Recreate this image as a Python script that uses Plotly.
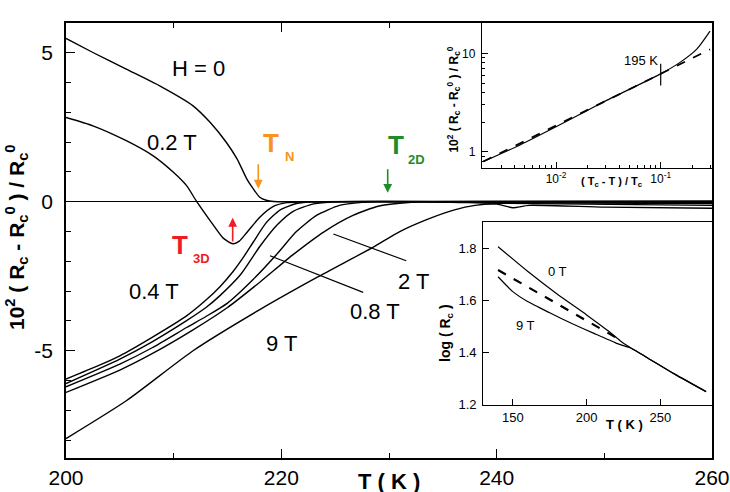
import plotly.graph_objects as go

# ---------------- main panel data: 10^2 (Rc - Rc0)/Rc0 vs T (K) ----------------
T_H0 = [200, 202.5, 205.6, 208.7, 211.8, 213.4, 214.9, 215.9, 216.8, 217.4, 218.0, 218.6, 219.3, 220.5, 225, 240, 260]
R_H0 = [5.48, 5.01, 4.45, 3.89, 3.22, 2.66, 1.99, 1.43, 0.76, 0.43, 0.15, 0.05, 0.01, 0.0, 0.0, 0.02, 0.03]

T_02 = [200, 202.5, 205.6, 208.1, 210.0, 211.2, 212.1, 213.4, 214.6, 215.5, 216.1, 216.8, 218.0, 219.3, 220.5, 222, 240, 260]
R_02 = [2.83, 2.55, 2.05, 1.54, 0.98, 0.54, 0.03, -0.64, -1.22, -1.41, -1.32, -1.03, -0.52, -0.15, -0.03, 0.0, 0.0, 0.0]

T_04 = [200, 203, 205, 208, 211.2, 213, 214.3, 215.5, 216.5, 217.4, 218.6, 219.9, 221.4, 223, 240, 260]
R_04 = [-5.95, -5.5, -5.17, -4.55, -3.83, -3.3, -2.85, -2.35, -1.85, -1.35, -0.7, -0.27, -0.06, 0.0, 0.0, 0.0]

T_06 = [200, 205, 208, 211.2, 213, 214.3, 216.2, 218, 219.6, 221.1, 223, 225, 240, 260]
R_06 = [-6.10, -5.28, -4.7, -3.99, -3.55, -3.15, -2.45, -1.5, -0.78, -0.32, -0.07, 0.0, 0.0, -0.03]

T_08 = [200, 205, 208, 211.2, 213, 215, 217.4, 219.6, 221.4, 223.3, 225.4, 227.5, 229, 240, 260]
R_08 = [-6.21, -5.45, -4.9, -4.22, -3.85, -3.4, -2.6, -1.75, -1.0, -0.45, -0.12, -0.02, 0.0, -0.03, -0.06]

T_2T = [200, 205, 208, 211.8, 215, 218, 221, 224, 226.7, 229, 231, 233, 240, 260]
R_2T = [-6.40, -5.65, -5.1, -4.3, -3.55, -2.7, -1.8, -1.0, -0.45, -0.15, -0.05, 0.0, -0.05, -0.12]

T_9T = [200, 205.6, 211.8, 218, 223.3, 228.5, 231, 233.5, 236, 238, 240, 241.5, 243, 250, 260]
R_9T = [-7.95, -6.68, -5.0, -3.62, -2.54, -1.53, -1.0, -0.6, -0.28, -0.12, -0.08, -0.2, -0.12, -0.18, -0.22]

# ---------------- upper inset: log-log ----------------
X_in1 = [0.00202, 0.00453, 0.0100, 0.0283, 0.100, 0.153, 0.221, 0.296]
Y_in1 = [0.793, 1.17, 1.79, 3.20, 6.19, 8.11, 11.07, 16.9]
X_in1_fit = [0.00202, 0.296]
Y_in1_fit = [0.793, 11.0]
X_195 = [0.1, 0.1]
Y_195 = [4.72, 7.87]

# ---------------- lower inset: log(Rc) vs T ----------------
T_0T = [140, 160, 180, 200, 215, 225, 230, 240, 260, 281]
L_0T = [1.806, 1.712, 1.625, 1.545, 1.482, 1.436, 1.418, 1.385, 1.317, 1.251]
T_9Tb = [140, 150, 160, 175, 190, 205, 220, 225, 230, 240, 260, 281]
L_9Tb = [1.691, 1.634, 1.596, 1.553, 1.512, 1.474, 1.437, 1.427, 1.418, 1.385, 1.317, 1.251]
T_dash = [140, 220]
L_dash = [1.717, 1.458]

FONT = "Liberation Sans, Arial, sans-serif"
ORANGE = "#F7941D"
GREEN = "#1E8C2A"
RED = "#EE1C24"

fig = go.Figure()

def line(x, y, xa, ya, width=1.3, dash=None, spline=True):
    fig.add_trace(go.Scatter(
        x=x, y=y, mode="lines", xaxis=xa, yaxis=ya, showlegend=False, hoverinfo="skip",
        line=dict(color="black", width=width, dash=dash,
                  shape="spline" if spline else "linear", smoothing=0.6 if spline else None)))

for T, R in [(T_H0, R_H0), (T_02, R_02), (T_04, R_04), (T_06, R_06),
             (T_08, R_08), (T_2T, R_2T), (T_9T, R_9T)]:
    line(T, R, "x", "y", width=1.4)

line(X_in1, Y_in1, "x2", "y2", width=1.2)
line(X_in1_fit, Y_in1_fit, "x2", "y2", width=1.8, dash="dash", spline=False)
line(X_195, Y_195, "x2", "y2", width=1.2, spline=False)

line(T_0T, L_0T, "x3", "y3", width=1.2)
line(T_9Tb, L_9Tb, "x3", "y3", width=1.2)
line(T_dash, L_dash, "x3", "y3", width=2.2, dash="dash", spline=False)

axis_common = dict(showline=True, linecolor="black", ticks="inside", tickcolor="black",
                   showgrid=False, zeroline=False, automargin=False, ticklabeloverflow="allow")

fig.update_layout(
    width=730, height=492,
    margin=dict(l=66, r=18, t=23, b=34),
    paper_bgcolor="white", plot_bgcolor="white",
    font=dict(family=FONT, color="black"),
    showlegend=False,
    xaxis=dict(axis_common, domain=[0, 1], range=[200, 260], anchor="y",
               tickvals=[200, 220, 240, 260], ticklen=9, linewidth=1.5, mirror="ticks",
               minor=dict(tickvals=[210, 230, 250], ticklen=5, ticks="inside", tickcolor="black"),
               tickfont=dict(size=21)),
    yaxis=dict(axis_common, domain=[0, 1], range=[-8.6, 6], anchor="x",
               tickvals=[-5, 0, 5], ticktext=["-5", "0", "5"], ticklen=9, linewidth=1.5, mirror=True,
               minor=dict(tickvals=[-8, -7, -6, -4, -3, -2, -1, 1, 2, 3, 4], ticklen=5,
                          ticks="inside", tickcolor="black"),
               zeroline=True, zerolinecolor="black", zerolinewidth=1.3,
               tickfont=dict(size=21), ticklabelstandoff=7),
    xaxis2=dict(axis_common, domain=[0.644, 1], anchor="y2", type="log", range=[-2.707, -0.51],
                tickvals=[0.01, 0.1], ticktext=["10<sup>-2</sup>", "10<sup>-1</sup>"], ticklen=6,
                linewidth=1.3, mirror=True,
                minor=dict(tickvals=[0.003, 0.004, 0.005, 0.006, 0.007, 0.008, 0.009,
                                     0.02, 0.03, 0.04, 0.05, 0.06, 0.07, 0.08, 0.09, 0.2, 0.3],
                           ticklen=3, ticks="inside", tickcolor="black"),
                tickfont=dict(size=12)),
    yaxis2=dict(axis_common, domain=[0.667, 1], anchor="x2", type="log", range=[-0.165, 1.31],
                tickvals=[1, 10], ticktext=["1", "10"], ticklen=6, linewidth=1.3, mirror=True,
                minor=dict(tickvals=[0.7, 0.8, 0.9, 2, 3, 4, 5, 6, 7, 8, 9, 20],
                           ticklen=3, ticks="inside", tickcolor="black"),
                tickfont=dict(size=12), ticklabelstandoff=3),
    xaxis3=dict(axis_common, domain=[0.646, 1], anchor="y3", range=[130, 285],
                tickvals=[150, 200, 250], ticklen=6, linewidth=1.3, mirror=True,
                tickfont=dict(size=13)),
    yaxis3=dict(axis_common, domain=[0.122, 0.542], anchor="x3", range=[1.2, 1.9],
                tickvals=[1.2, 1.4, 1.6, 1.8], ticklen=6, linewidth=1.3, mirror=True,
                tickfont=dict(size=13), ticklabelstandoff=3),
)

ann = []
def txt(x, y, s, size=22, color="black", xref="x", yref="y", bold=False, angle=0, xanchor="center"):
    ann.append(dict(x=x, y=y, xref=xref, yref=yref, text=("<b>%s</b>" % s) if bold else s,
                    showarrow=False, font=dict(size=size, color=color, family=FONT),
                    textangle=angle, xanchor=xanchor, yanchor="middle"))

# curve labels (main)
txt(212.35, 4.48, "H = 0")
txt(209.85, 2.0, "0.2 T")
txt(208.13, -3.02, "0.4 T")
txt(220.0, -4.75, "9 T")
txt(232.28, -2.68, "2 T")
txt(228.7, -3.69, "0.8 T")
# transition labels
txt(219.04, 1.96, "T", size=26, color=ORANGE, bold=True)
txt(220.8, 1.51, "N", size=13, color=ORANGE, bold=True)
txt(230.65, 1.91, "T", size=26, color=GREEN, bold=True)
txt(232.6, 1.41, "2D", size=13, color=GREEN, bold=True)
txt(210.59, -1.44, "T", size=26, color=RED, bold=True)
txt(212.63, -1.90, "3D", size=13, color=RED, bold=True)

# arrows
for (x, y0, y1, c) in [(217.86, 1.31, 0.44, ORANGE), (229.88, 1.14, 0.30, GREEN), (215.48, -1.38, -0.54, RED)]:
    ann.append(dict(x=x, y=y1, ax=x, ay=y0, xref="x", yref="y", axref="x", ayref="y",
                    text="", showarrow=True, arrowhead=2, arrowsize=1.1, arrowwidth=1.6,
                    arrowcolor=c, standoff=0, startstandoff=0))

# axis titles (main)
txt(0.5, -0.055, "T ( K )", size=22, xref="paper", yref="paper", bold=True)
txt(-0.0774, 0.508, "10<sup>2</sup> ( R<sub>c</sub> - R<sub>c</sub><sup>0</sup> ) / R<sub>c</sub><sup>0</sup>",
    size=21, xref="paper", yref="paper", bold=True, angle=-90)

# upper inset texts
txt(-1.193, 0.931, "195 K", size=13, xref="x2", yref="y2")
txt(0.845, 0.634, "( T<sub>c</sub> - T ) / T<sub>c</sub>", size=11, xref="paper", yref="paper", bold=True)
txt(0.600, 0.823, "10<sup>2</sup> ( R<sub>c</sub> - R<sub>c</sub><sup>0</sup> ) / R<sub>c</sub><sup>0</sup>",
    size=12, xref="paper", yref="paper", bold=True, angle=-90)

# lower inset texts
txt(180.1, 1.71, "0 T", size=13, xref="x3", yref="y3")
txt(158.4, 1.506, "9 T", size=13, xref="x3", yref="y3")
txt(0.865, 0.076, "T ( K )", size=13, xref="paper", yref="paper", bold=True)
txt(0.588, 0.287, "log ( R<sub>c</sub> )", size=14, xref="paper", yref="paper", bold=True, angle=-90)

fig.update_layout(annotations=ann)

# leader lines for 0.8 T and 2 T
fig.update_layout(shapes=[
    dict(type="line", xref="x", yref="y", x0=218.95, y0=-1.81, x1=227.6, y1=-3.04,
         line=dict(color="black", width=1.2)),
    dict(type="line", xref="x", yref="y", x0=224.83, y0=-1.08, x1=231.6, y1=-1.98,
         line=dict(color="black", width=1.2)),
])

fig.write_html("out.html")
